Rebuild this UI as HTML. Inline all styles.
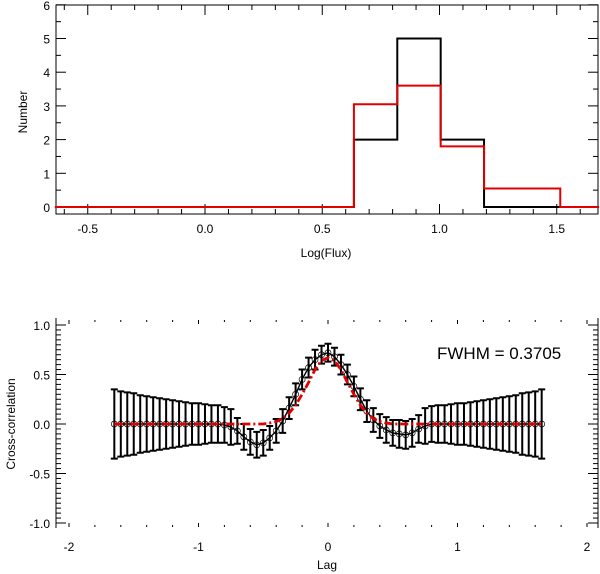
<!DOCTYPE html>
<html><head><meta charset="utf-8"><style>
body{margin:0;background:#fff}
svg{display:block;font-family:"Liberation Sans",sans-serif}
</style></head><body>
<svg id="c" width="600" height="574" xmlns="http://www.w3.org/2000/svg"></svg>
<script>
// ---- histogram data ----
const histEdges=[-0.64,0.635,0.82,1.005,1.19,1.515,1.68];
const histBlack=[0,2,5,2,0,0];
const histRed=[0,3.05,3.6,1.8,0.55,0];
const histXTicks=[-0.5,0.0,0.5,1.0,1.5];
const histXTickLabels=["-0.5","0.0","0.5","1.0","1.5"];
const histYTicks=[0,1,2,3,4,5,6];
// ---- cross-correlation data ----
const lags=[-1.65,-1.6,-1.55,-1.5,-1.45,-1.4,-1.35,-1.3,-1.25,-1.2,-1.15,-1.1,-1.05,-1.0,-0.95,-0.9,-0.85,-0.8,-0.75,-0.7,-0.65,-0.6,-0.55,-0.5,-0.45,-0.4,-0.35,-0.3,-0.25,-0.2,-0.15,-0.1,-0.05,0,0.05,0.1,0.15,0.2,0.25,0.3,0.35,0.4,0.45,0.5,0.55,0.6,0.65,0.7,0.75,0.8,0.85,0.9,0.95,1.0,1.05,1.1,1.15,1.2,1.25,1.3,1.35,1.4,1.45,1.5,1.55,1.6,1.65];
const ccf=[0,0,0,0,0,0,0,0,0,0,0,0,0,0,0,0,0,-0.01,-0.03,-0.07,-0.13,-0.18,-0.21,-0.19,-0.14,-0.07,0.03,0.16,0.3,0.45,0.57,0.65,0.7,0.72,0.68,0.6,0.5,0.38,0.25,0.13,0.04,-0.02,-0.06,-0.09,-0.1,-0.11,-0.09,-0.05,-0.02,0,0,0,0,0,0,0,0,0,0,0,0,0,0,0,0,0,0];
const ccfErr=[0.35,0.33,0.32,0.31,0.29,0.28,0.27,0.26,0.25,0.24,0.23,0.22,0.21,0.21,0.2,0.19,0.19,0.18,0.18,0.13,0.13,0.13,0.13,0.13,0.12,0.12,0.12,0.11,0.11,0.1,0.1,0.1,0.09,0.09,0.09,0.1,0.1,0.1,0.11,0.11,0.12,0.12,0.13,0.13,0.14,0.14,0.14,0.14,0.18,0.18,0.19,0.19,0.2,0.21,0.21,0.22,0.23,0.24,0.25,0.26,0.27,0.28,0.29,0.31,0.32,0.33,0.35];
const fitLags=[-1.65,-0.5,-0.45,-0.4,-0.35,-0.3,-0.25,-0.2,-0.15,-0.1,-0.05,0,0.05,0.1,0.15,0.2,0.25,0.3,0.35,0.4,0.45,0.5,1.65];
const fitVals=[0,0,0.01,0.025,0.055,0.11,0.19,0.3,0.42,0.55,0.64,0.67,0.64,0.55,0.42,0.3,0.19,0.11,0.055,0.025,0.01,0,0];
const ccYTicks=[1.0,0.5,0.0,-0.5,-1.0];
const ccYTickLabels=["1.0","0.5","0.0","-0.5","-1.0"];
const ccXTicks=[-2,-1,0,1,2];

const NS="http://www.w3.org/2000/svg";
const svg=document.getElementById('c');
function mk(t,a,p){const e=document.createElementNS(NS,t);for(const k in a)e.setAttribute(k,a[k]);(p||svg).appendChild(e);return e;}

// ===== top histogram =====
const hx=v=>205+(v-0)*234.5, hy=v=>207-v*33.7;
const g1=mk('g',{});


const frame=mk('rect',{x:56,y:5,width:542,height:209,fill:'none',stroke:'#000','stroke-width':1},g1);


for(let v=0;v<=6;v+=0.5){const y=hy(v);const L=(v%1===0)?10:5;
 mk('line',{x1:56,y1:y,x2:56+L,y2:y,stroke:'#000'},g1);mk('line',{x1:598,y1:y,x2:598-L,y2:y,stroke:'#000'},g1);}
histYTicks.forEach(v=>{const t=mk('text',{x:50,y:hy(v)+5,'font-size':12,'text-anchor':'end'},g1);t.textContent=v;
 });
for(let i=-6;i<=16;i++){const v=i/10;const x=hx(v);if(x<56||x>598)continue;const L=(i%5===0)?10:5;
 mk('line',{x1:x,y1:214,x2:x,y2:214-L,stroke:'#000'},g1);mk('line',{x1:x,y1:5,x2:x,y2:5+L,stroke:'#000'},g1);}
histXTicks.forEach((v,i)=>{const t=mk('text',{x:hx(v),y:233,'font-size':12,'text-anchor':'middle'},g1);t.textContent=histXTickLabels[i];
 });
function stepPath(vals){let d='';for(let i=0;i<vals.length;i++){const x0=hx(histEdges[i]),x1=hx(histEdges[i+1]),y=hy(vals[i]);d+=(i?'L':'M')+x0+','+y+'L'+x1+','+y;}return d;}
const pb=mk('path',{d:stepPath(histBlack),fill:'none',stroke:'#000','stroke-width':2},g1);

const pr=mk('path',{d:stepPath(histRed),fill:'none',stroke:'#e00000','stroke-width':2},g1);

let t=mk('text',{x:326,y:257,'font-size':12,'text-anchor':'middle'},g1);t.textContent='Log(Flux)';

t=mk('text',{x:0,y:0,'font-size':12,'text-anchor':'middle',transform:'translate(27,112) rotate(-90)'},g1);t.textContent='Number';


// ===== bottom cross-correlation =====
const cx=v=>328+v*129.5, cy=v=>424-v*99;
const g2=mk('g',{});


mk('line',{x1:56,y1:318,x2:56,y2:528,stroke:'#000'},g2);
mk('line',{x1:598,y1:318,x2:598,y2:528,stroke:'#000'},g2);
for(let i=-20;i<=20;i++){const v=i/20;const y=cy(v);const L=(i%10===0)?10:5;
 mk('line',{x1:56,y1:y,x2:56+L,y2:y,stroke:'#000'},g2);mk('line',{x1:598,y1:y,x2:598-L,y2:y,stroke:'#000'},g2);}
ccYTicks.forEach((v,i)=>{const t=mk('text',{x:50,y:cy(v)+5,'font-size':12,'text-anchor':'end'},g2);t.textContent=ccYTickLabels[i];
 });
for(let i=-10;i<=10;i++){const x=cx(i/5);const L=(i%5===0)?4:2;
 mk('line',{x1:x,y1:320,x2:x,y2:320+L,stroke:'#000'},g2);mk('line',{x1:x,y1:527,x2:x,y2:527-L,stroke:'#000'},g2);}
ccXTicks.forEach(v=>{const t=mk('text',{x:cx(v),y:551,'font-size':12,'text-anchor':'middle'},g2);t.textContent=v;
 });
lags.forEach((l,i)=>{const x=cx(l),y0=cy(ccf[i]-ccfErr[i]),y1=cy(ccf[i]+ccfErr[i]);
 const e=mk('path',{d:`M${x},${y0}L${x},${y1}M${x-3.5},${y0}L${x+3.5},${y0}M${x-3.5},${y1}L${x+3.5},${y1}`,stroke:'#000','stroke-width':2,fill:'none'},g2);
 
 const c=mk('circle',{cx:x,cy:cy(ccf[i]),r:3,fill:'none',stroke:'#000','stroke-width':0.7},g2);
 });
const ln=mk('polyline',{points:lags.map((l,i)=>cx(l)+','+cy(ccf[i])).join(' '),fill:'none',stroke:'#000','stroke-width':1.4},g2);

const fit=mk('polyline',{points:fitLags.map((l,i)=>cx(l)+','+cy(fitVals[i])).join(' '),fill:'none',stroke:'#e00000','stroke-width':2.8,'stroke-dasharray':'8,3,2,3'},g2);

t=mk('text',{x:437,y:359,'font-size':17},g2);t.textContent='FWHM = 0.3705';

t=mk('text',{x:327,y:569,'font-size':12,'text-anchor':'middle'},g2);t.textContent='Lag';

t=mk('text',{x:0,y:0,'font-size':12,'text-anchor':'middle',transform:'translate(15,424) rotate(-90)'},g2);t.textContent='Cross-correlation';

</script>
</body></html>
